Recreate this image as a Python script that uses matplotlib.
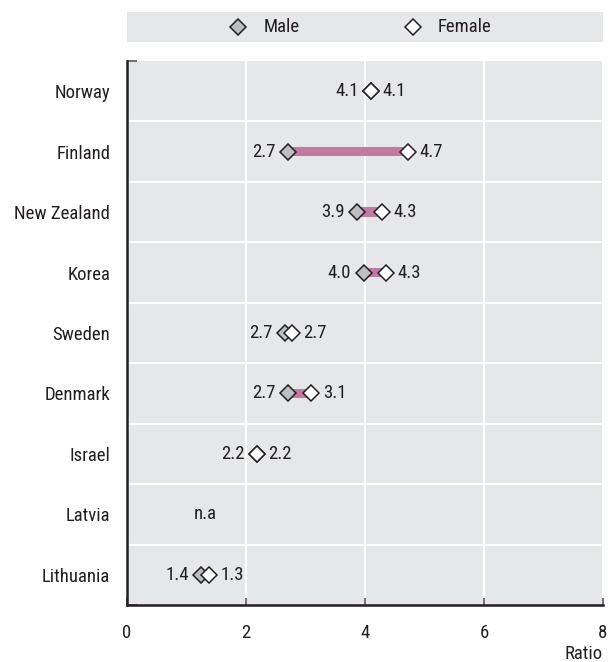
"""Male vs female ratio by country, dumbbell chart."""

import matplotlib.pyplot as plt

countries = ["Norway", "Finland", "New Zealand", "Korea", "Sweden",
             "Denmark", "Israel", "Latvia", "Lithuania"]
male = [4.1, 2.7, 3.87, 3.98, 2.65, 2.71, 2.18, None, 1.25]
female = [4.1, 4.72, 4.28, 4.35, 2.77, 3.10, 2.18, None, 1.38]
male_lbl = ["4.1", "2.7", "3.9", "4.0", "2.7", "2.7", "2.2", None, "1.4"]
female_lbl = ["4.1", "4.7", "4.3", "4.3", "2.7", "3.1", "2.2", None, "1.3"]
na_x = 1.32
xticks = [0, 2, 4, 6, 8]

BG = "#E6E7E8"
DARK = "#231F20"
BAR = "#C27BA0"
GREY = "#BCBEC0"

plt.rcParams["font.family"] = ["Roboto Condensed", "Archivo Narrow",
                               "Liberation Sans", "DejaVu Sans"]
plt.rcParams["font.size"] = 13.5
plt.rcParams["text.color"] = DARK
plt.rcParams["xtick.color"] = DARK
plt.rcParams["ytick.color"] = DARK

fig = plt.figure(figsize=(6.09, 6.62), dpi=100)
ax = fig.add_axes([127 / 609, 57 / 662, 476 / 609, 544 / 662])
ax.set_facecolor(BG)

n = len(countries)
ys = list(range(n))
ms = 8.5
for y, m, f, ml, fl in zip(ys, male, female, male_lbl, female_lbl):
    if m is None:
        ax.text(na_x, y, "n.a", ha="center", va="center")
        continue
    lo, hi = min(m, f), max(m, f)
    if hi - lo > 0.05:
        ax.barh(y, hi - lo, left=lo, height=0.155, color=BAR, zorder=2)
    ax.plot(m, y, marker="D", ms=ms, mfc=GREY, mec=DARK, mew=1.1, zorder=3)
    ax.plot(f, y, marker="D", ms=ms, mfc="white", mec=DARK, mew=1.1, zorder=4)
    ax.annotate(ml, (lo, y), xytext=(-9, 0), textcoords="offset points",
                ha="right", va="center")
    ax.annotate(fl, (hi, y), xytext=(8.5, 0), textcoords="offset points",
                ha="left", va="center")

ax.set_xlim(0, 8)
ax.set_ylim(n - 0.5, -0.5)
ax.set_xticks(xticks)
ax.set_yticks(ys)
ax.set_yticklabels(countries)
ax.set_yticks([i - 0.5 for i in range(n + 1)], minor=True)
ax.tick_params(axis="y", which="major", length=0, pad=12)
ax.tick_params(axis="y", which="minor", length=7, width=1.2, direction="in", color="#58595B")
ax.tick_params(axis="x", length=5, width=1.2, direction="in", color="#58595B", pad=14)
ax.grid(axis="x", color="white", lw=1.5, zorder=1)
for i in range(1, n):
    ax.axhline(i - 0.5, color="white", lw=1.5, zorder=1)
ax.set_axisbelow(True)
for s in ("top", "right"):
    ax.spines[s].set_visible(False)
for s in ("left", "bottom"):
    ax.spines[s].set_color(DARK)
    ax.spines[s].set_linewidth(1.8)
ax.set_xlabel("Ratio", loc="right", labelpad=2, color=DARK)

# legend strip
lax = fig.add_axes([127 / 609, 620 / 662, 476 / 609, 30 / 662])
lax.set_facecolor(BG)
lax.set_xlim(0, 1)
lax.set_ylim(0, 1)
lax.set_xticks([])
lax.set_yticks([])
for s in lax.spines.values():
    s.set_visible(False)
lax.plot(0.233, 0.5, marker="D", ms=ms, mfc=GREY, mec=DARK, mew=1.1)
lax.text(0.286, 0.5, "Male", va="center")
lax.plot(0.601, 0.5, marker="D", ms=ms, mfc="white", mec=DARK, mew=1.1)
lax.text(0.653, 0.5, "Female", va="center")

fig.savefig("out.png", dpi=100)
